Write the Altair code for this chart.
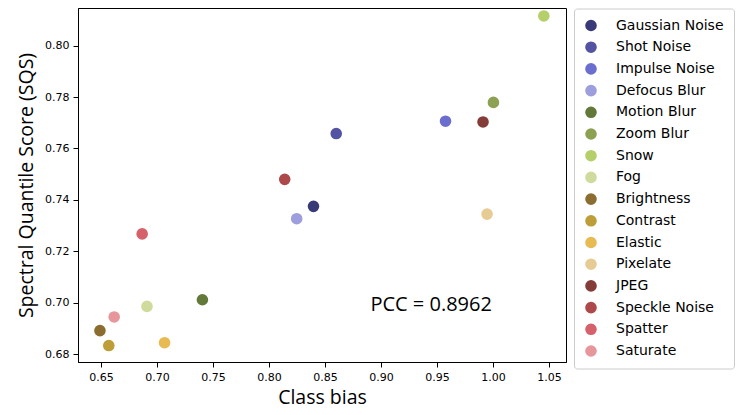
import altair as alt
import pandas as pd

categories = ["Gaussian Noise", "Shot Noise", "Impulse Noise", "Defocus Blur",
              "Motion Blur", "Zoom Blur", "Snow", "Fog", "Brightness", "Contrast",
              "Elastic", "Pixelate", "JPEG", "Speckle Noise", "Spatter", "Saturate"]
class_bias = [0.8397, 0.8600, 0.9576, 0.8247, 0.7405, 1.0004, 1.0454, 0.6910,
              0.6490, 0.6569, 0.7067, 0.9947, 0.9911, 0.8140, 0.6867, 0.6617]
sqs = [0.7375, 0.7658, 0.7706, 0.7327, 0.7012, 0.7779, 0.8115, 0.6986,
       0.6892, 0.6834, 0.6845, 0.7345, 0.7703, 0.7480, 0.7268, 0.6945]
colors = ["#393b79", "#5254a3", "#6b6ecf", "#9c9ede", "#637939", "#8ca252",
          "#b5cf6b", "#cedb9c", "#8c6d31", "#bd9e39", "#e7ba52", "#e7cb94",
          "#843c39", "#ad494a", "#d6616b", "#e7969c"]
x_ticks = [0.65, 0.70, 0.75, 0.80, 0.85, 0.90, 0.95, 1.00, 1.05]
y_ticks = [0.68, 0.70, 0.72, 0.74, 0.76, 0.78, 0.80]
annot_text = ["PCC = 0.8962"]
annot_x = [0.9448]
annot_y = [0.6993]

df = pd.DataFrame({"cat": categories, "x": class_bias, "y": sqs})
ann = pd.DataFrame({"t": annot_text, "x": annot_x, "y": annot_y})

xscale = alt.Scale(domain=[0.6294, 1.0652], nice=False, zero=False)
yscale = alt.Scale(domain=[0.677, 0.8146], nice=False, zero=False)

points = alt.Chart(df).mark_circle(size=135, opacity=1).encode(
    x=alt.X("x:Q", scale=xscale,
            axis=alt.Axis(values=x_ticks, format=".2f", title="Class bias")),
    y=alt.Y("y:Q", scale=yscale,
            axis=alt.Axis(values=y_ticks, format=".2f",
                          title="Spectral Quantile Score (SQS)")),
    color=alt.Color("cat:N", sort=categories,
                    scale=alt.Scale(domain=categories, range=colors),
                    legend=alt.Legend(title=None, orient="none",
                                      legendX=496, legendY=0.5,
                                      symbolSize=135, symbolType="circle",
                                      symbolOpacity=1,
                                      labelFontSize=14, labelFont="DejaVu Sans",
                                      labelColor="black", labelOffset=18,
                                      rowPadding=7.7, padding=10,
                                      strokeColor="#cccccc", cornerRadius=3,
                                      fillColor="white")),
)

text = alt.Chart(ann).mark_text(font="Open Sans", fontSize=20, color="black",
                                align="center", baseline="middle").encode(
    x=alt.X("x:Q", scale=xscale),
    y=alt.Y("y:Q", scale=yscale),
    text="t:N",
)

chart = alt.layer(points, text).properties(
    width=488, height=354,
    autosize=alt.AutoSizeParams(type="none"),
    padding={"left": 70, "top": 0, "right": 169, "bottom": 48},
).configure_view(
    stroke="black", strokeWidth=1
).configure_axis(
    grid=False, domainColor="black", tickColor="black", tickSize=5,
    labelColor="black", labelFont="DejaVu Sans", labelFontSize=11,
    titleFont="Open Sans", titleFontSize=19.5, titleFontWeight="normal",
    titleColor="black", labelPadding=4,
).configure_axisX(titlePadding=6).configure_axisY(titlePadding=8)

chart.save("out.html", embed_options={"renderer": "svg", "actions": False})
